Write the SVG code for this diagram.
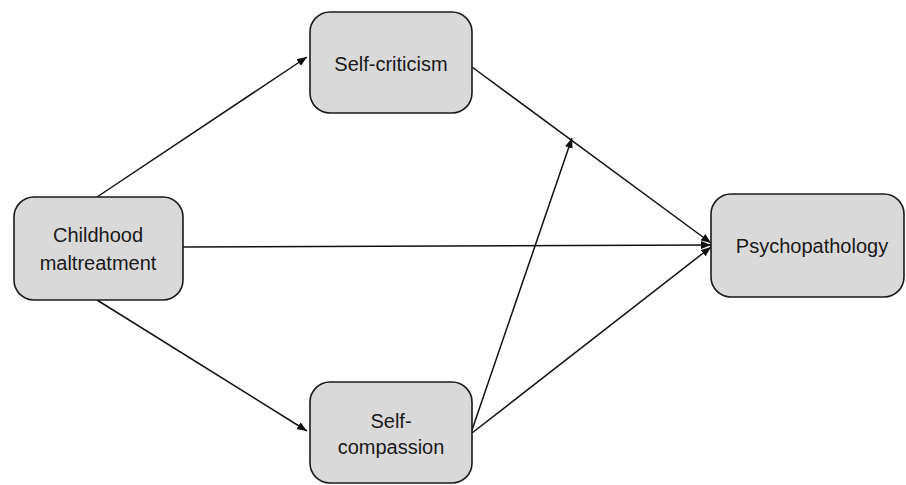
<svg xmlns="http://www.w3.org/2000/svg" width="906" height="485" viewBox="0 0 906 485">
<defs>
<marker id="arr" viewBox="0 0 10 8" refX="10" refY="4" markerWidth="10" markerHeight="8" markerUnits="userSpaceOnUse" orient="auto">
<path d="M0,0 L10,4 L0,8 z" fill="#111"/>
</marker>
</defs>
<style>
.box{fill:#d9d9d9;stroke:#1a1a1a;stroke-width:1.6}
.lbl{font-family:"Liberation Sans",Arial,sans-serif;font-size:20px;fill:#1a1a1a;text-anchor:middle}
.edge{stroke:#111;stroke-width:1.5;fill:none;marker-end:url(#arr)}
</style>
<rect width="906" height="485" fill="#fff"/>
<g id="connectors">
<line class="edge" x1="97" y1="197" x2="307" y2="57"/>
<line class="edge" x1="97" y1="300" x2="307" y2="431"/>
<line class="edge" x1="183" y1="247" x2="711" y2="245"/>
<line class="edge" x1="472" y1="67" x2="711" y2="243"/>
<line class="edge" x1="472" y1="433" x2="711" y2="247"/>
<line class="edge" x1="472" y1="430" x2="572" y2="138"/>
</g>
<g id="childhood">
<rect class="box" x="14" y="197" width="169" height="103" rx="20"/>
<text class="lbl" x="98" y="242">Childhood</text>
<text class="lbl" x="98" y="270">maltreatment</text>
</g>
<g id="selfcriticism">
<rect class="box" x="310" y="12" width="162" height="101" rx="20"/>
<text class="lbl" x="391" y="71">Self-criticism</text>
</g>
<g id="selfcompassion">
<rect class="box" x="310" y="382" width="162" height="101" rx="20"/>
<text class="lbl" x="391" y="428">Self-</text>
<text class="lbl" x="391" y="454">compassion</text>
</g>
<g id="psychopathology">
<rect class="box" x="711" y="194" width="193" height="103" rx="20"/>
<text class="lbl" x="812" y="253">Psychopathology</text>
</g>
</svg>
